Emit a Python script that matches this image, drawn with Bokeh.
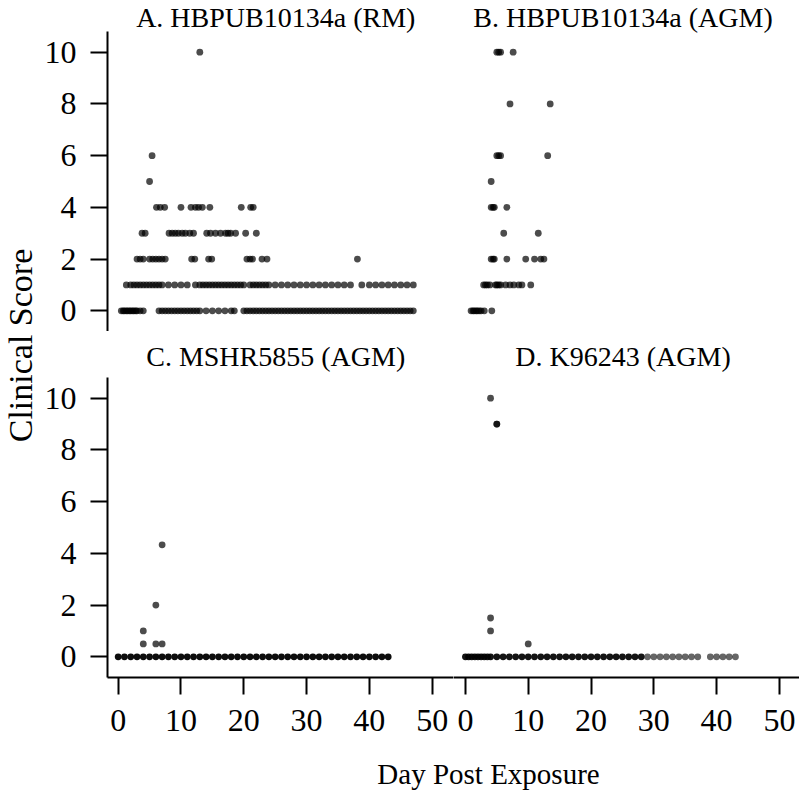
import math
from bokeh.plotting import figure
from bokeh.models import Range1d, FixedTicker, Label
from bokeh.layouts import row, column
from bokeh.embed import file_html
from bokeh.resources import INLINE

# ---------------- data ----------------
titles = ["A.  HBPUB10134a (RM)", "B.  HBPUB10134a (AGM)",
          "C.  MSHR5855 (AGM)", "D.  K96243 (AGM)"]
y_ticks = [0, 2, 4, 6, 8, 10]
x_ticks = [0, 10, 20, 30, 40, 50]
x_label = "Day Post Exposure"
y_label = "Clinical Score"

# Panel A: days observed at each clinical score
A_s0 = [0.5, 0.8, 1, 1.3, 1.5, 1.8, 2, 2.3, 2.5, 2.8, 3, 3.5, 4,
        6.5, 7, 7.5, 8, 8.5, 9, 9.5, 10, 10.5, 11, 11.5, 12, 12.5, 13, 14, 15, 16, 17, 18, 18.5,
        20, 20.5, 21, 21.5, 22, 22.5, 23, 23.5, 24, 24.5, 25, 25.5, 26, 26.5, 27, 27.5, 28, 28.5,
        29, 29.5, 30, 30.5, 31, 31.5, 32, 32.5, 33, 33.5, 34, 34.5, 35, 35.5, 36, 36.5, 37, 37.5,
        38, 38.5, 39, 39.5, 40, 40.5, 41, 41.5, 42, 42.5, 43, 43.5, 44, 44.5, 45, 45.5, 46, 46.5, 47]
A_s1 = [1.3, 2, 2.5, 3, 3.5, 4, 4.5, 5, 5.5, 6, 6.5, 7, 8, 9, 10, 11,
        12.3, 13, 13.5, 14, 14.5, 15, 15.5, 16, 16.5, 17, 17.5, 18, 18.5, 19, 19.5, 20,
        21, 21.5, 22, 22.5, 23, 23.5, 24, 25, 26, 27, 28, 29, 30, 31, 32, 33, 34, 35, 36, 37,
        38.8, 40, 41, 42, 43, 44, 45, 46, 47]
A_s2 = [3, 3.5, 4, 5, 5.5, 6, 6.5, 7, 7.5, 11.7, 12.2, 14.4, 14.9, 20.5, 21, 21.4, 22.9, 23.7, 38.1]
A_s3 = [3.8, 4.3, 8.1, 8.6, 9.1, 9.6, 10.2, 10.7, 11.4, 12.0,
        14.1, 14.7, 15.5, 16.3, 17.1, 17.5, 17.9, 18.7, 20.3, 22.0]
A_s4 = [6.1, 6.7, 7.4, 10.0, 11.6, 12.3, 12.8, 13.4, 14.6, 19.6, 21.1, 21.5]
A_s5 = [5.0]
A_s6 = [5.4]
A_s10 = [13.0]

# Panel B
B_s0 = [0.9, 1.2, 1.4, 1.7, 1.9, 2.2, 2.5, 3.0, 4.2]
B_s1 = [2.9, 3.2, 3.5, 3.9, 4.8, 5.0, 5.3, 5.6, 6.4, 7.1, 7.7, 8.5, 9.0, 10.4]
B_s2 = [4.1, 4.4, 4.6, 6.6, 9.6, 11.0, 12.0, 12.5]
B_s3 = [6.1, 11.6]
B_s4 = [4.1, 4.4, 4.6, 6.6]
B_s5 = [4.1]
B_s6 = [5.0, 5.3, 5.6, 13.1]
B_s8 = [7.1, 13.5]
B_s10 = [5.0, 5.3, 5.6, 7.6]

# Panel C
C_s0 = [0, 1, 2, 3, 4, 5, 6, 7, 8, 9, 10, 11, 12, 13, 14, 15, 16, 17, 18, 19, 20, 21,
        22, 23, 24, 25, 26, 27, 28, 29, 30, 31, 32, 33, 34, 35, 36, 37, 38, 39, 40, 41, 42, 43]
C_other_day = [4, 4, 6, 6, 7, 7]
C_other_score = [1, 0.5, 2, 0.5, 0.5, 4.33]

# Panel D
D_s0_early = [0, 0.5, 1, 1.5, 2, 2.5, 3, 3.5, 4, 5, 6, 7, 8, 9, 10, 11, 12, 13, 14, 15, 16,
              17, 18, 19, 20, 21, 22, 23, 24, 25, 26, 27, 28]
D_s0_late = [29, 30, 31, 32, 33, 34, 35, 36, 37, 39, 40, 41, 42, 43]
D_other_day = [4, 5, 5, 4, 4, 10]
D_other_score = [10, 9, 9, 1.5, 1, 0.5]

# ---------------- styling / layout ----------------
SERIF = "Liberation Serif"
FRAME_W = 346
PX_PER_UNIT = 25.86
Y_AXIS_BOUNDS = (-0.8, 10.8)
XR_LEFT = (-1.7, 53.4)
XR_RIGHT = (-1.9, 53.2)
DOT = 6.8
YLAB_W = 40
LEFT_BORDER = 67
C_BOTTOM = 80


def style_axis(ax, ticks, standoff):
    ax.ticker = FixedTicker(ticks=ticks)
    ax.axis_line_width = 2
    ax.axis_line_color = "black"
    ax.major_tick_line_width = 2
    ax.major_tick_line_color = "black"
    ax.major_tick_out = 17
    ax.major_tick_in = 0
    ax.minor_tick_out = 0
    ax.minor_tick_in = 0
    ax.major_label_text_font = SERIF
    ax.major_label_text_font_size = "32px"
    ax.major_label_text_color = "black"
    ax.major_label_standoff = standoff


def panel(title, xr, left, bottom, frame_h, bottom_border, title_y):
    width = FRAME_W + (LEFT_BORDER if left else 0)
    height = frame_h + bottom_border
    y_top = Y_AXIS_BOUNDS[0] + frame_h / PX_PER_UNIT
    p = figure(width=width, height=height,
               x_range=Range1d(*xr), y_range=Range1d(Y_AXIS_BOUNDS[0], y_top),
               x_axis_location="below" if bottom else None,
               y_axis_location="left" if left else None,
               min_border_left=LEFT_BORDER if left else 0, min_border_right=0,
               min_border_top=0, min_border_bottom=bottom_border,
               output_backend="svg", toolbar_location=None)
    p.outline_line_color = None
    p.grid.visible = False
    p.background_fill_color = "white"
    p.border_fill_color = "white"
    if left:
        style_axis(p.yaxis[0], y_ticks, 14)
        p.yaxis[0].bounds = Y_AXIS_BOUNDS
    if bottom:
        style_axis(p.xaxis[0], x_ticks, 15)
    p.add_layout(Label(x=25.65, y=title_y, text=title, text_align="center",
                       text_baseline="middle", text_font=SERIF,
                       text_font_size="28px", text_color="black"))
    return p


def dots(p, days, score, alpha=0.7):
    p.scatter(x=days, y=[score] * len(days), size=DOT, fill_color="black",
              fill_alpha=alpha, line_color=None)


pA = panel(titles[0], XR_LEFT, True, False, 331, 0, 11.34)
for d, s in [(A_s0, 0), (A_s1, 1), (A_s2, 2), (A_s3, 3), (A_s4, 4),
             (A_s5, 5), (A_s6, 6), (A_s10, 10)]:
    dots(pA, d, s)

pB = panel(titles[1], XR_RIGHT, False, False, 331, 0, 11.34)
for d, s in [(B_s0, 0), (B_s1, 1), (B_s2, 2), (B_s3, 3), (B_s4, 4),
             (B_s5, 5), (B_s6, 6), (B_s8, 8), (B_s10, 10)]:
    dots(pB, d, s)

pC = panel(titles[2], XR_LEFT, True, True, 346, C_BOTTOM, 11.61)
dots(pC, C_s0, 0, 0.95)
pC.scatter(x=C_other_day, y=C_other_score, size=DOT, fill_color="black",
           fill_alpha=0.7, line_color=None)

pD = panel(titles[3], XR_RIGHT, False, True, 346, C_BOTTOM, 11.61)
dots(pD, D_s0_early, 0, 0.92)
dots(pD, D_s0_late, 0, 0.6)
pD.scatter(x=D_other_day, y=D_other_score, size=DOT, fill_color="black",
           fill_alpha=0.7, line_color=None)


def label_fig(w, h):
    f = figure(width=w, height=h, x_range=Range1d(0, w), y_range=Range1d(0, h),
               x_axis_location=None, y_axis_location=None,
               min_border_left=0, min_border_right=0, min_border_top=0, min_border_bottom=0,
               output_backend="svg", toolbar_location=None)
    f.outline_line_color = None
    f.grid.visible = False
    return f


ylab_h = 331 + 346 + C_BOTTOM
ylab = label_fig(YLAB_W, ylab_h)
ylab.add_layout(Label(x=20, y=ylab_h - 345, text=y_label, angle=math.pi / 2,
                      text_align="center", text_baseline="middle",
                      text_font=SERIF, text_font_size="34px", text_color="black"))

xlab_h = 795 - ylab_h
xlab = label_fig(FRAME_W * 2 + LEFT_BORDER, xlab_h)
xlab.add_layout(Label(x=488 - YLAB_W, y=22, text=x_label, text_align="center",
                      text_baseline="middle", text_font=SERIF,
                      text_font_size="29px", text_color="black"))

layout = row(ylab, column(row(pA, pB), row(pC, pD), xlab))

open("out.html", "w").write(file_html(layout, INLINE))
